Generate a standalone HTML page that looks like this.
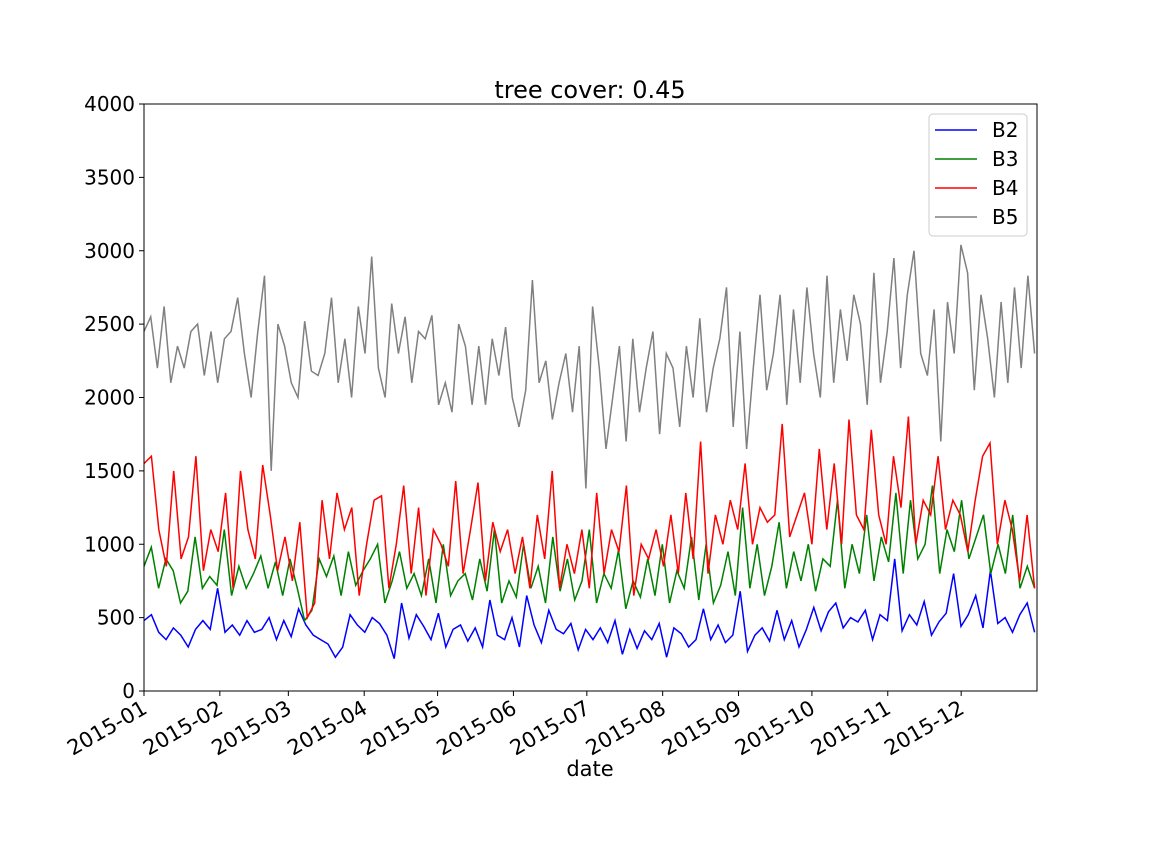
<!DOCTYPE html>
<html><head><meta charset="utf-8"><style>
body{margin:0;background:#fff;}
svg{display:block;font-family:"DejaVu Sans","Liberation Sans",sans-serif;}
</style></head><body>
<svg id="chart" width="1152" height="864">
<text x="590" y="98" text-anchor="middle" font-size="24">tree cover: 0.45</text>
<g id="series"></g>
<rect x="144" y="104" width="893" height="587" fill="none" stroke="#000" stroke-width="1"/>
<g id="axes"></g>
<text x="590" y="776" text-anchor="middle" font-size="21">date</text>
<g>
<rect x="929" y="114" width="98" height="122" rx="4" fill="#fff" fill-opacity="0.8" stroke="#ccc"/>
<g id="legend"></g>
</g>
</svg>
<script>
const monthLabels=["2015-01","2015-02","2015-03","2015-04","2015-05","2015-06","2015-07","2015-08","2015-09","2015-10","2015-11","2015-12"];
const monthStartDays=[0,31,59,90,120,151,181,212,243,273,304,334];
const yTicks=[0,500,1000,1500,2000,2500,3000,3500,4000];
const seriesNames=["B2","B3","B4","B5"];
const seriesColors=["#0000ff","#008000","#ff0000","#808080"];
const b2=[480,520,400,350,430,380,300,420,480,420,700,400,450,380,480,400,420,500,350,480,370,560,450,380,350,320,230,300,520,450,400,500,460,380,220,600,360,520,440,350,530,300,420,450,340,430,300,620,380,350,500,300,650,450,330,550,420,390,460,280,420,350,430,330,480,250,420,290,410,350,460,230,430,390,300,350,560,350,450,330,380,680,270,380,430,340,550,350,480,300,420,570,410,540,600,430,500,470,550,350,520,480,900,410,520,450,610,380,470,530,800,440,520,650,430,820,460,500,400,520,600,400];
const b3=[850,980,700,900,820,600,680,1050,700,780,720,1100,650,850,700,800,920,700,880,650,900,700,480,550,900,780,920,650,950,720,820,900,1000,600,750,950,700,800,650,900,600,1000,650,750,800,620,900,680,1100,600,750,640,1000,700,850,600,1050,680,900,620,750,1100,600,800,700,960,560,750,640,900,650,1000,600,820,700,1050,620,1000,600,720,950,650,1250,700,1000,650,850,1150,700,950,750,1000,680,900,850,1300,700,1000,800,1200,750,1050,880,1350,800,1300,900,1000,1400,800,1100,950,1300,900,1050,1200,800,1000,800,1200,700,850,700];
const b4=[1550,1600,1100,850,1500,900,1050,1600,820,1100,950,1350,700,1500,1100,900,1540,1200,820,1050,750,1150,500,600,1300,900,1350,1100,1250,650,1000,1300,1330,700,1000,1400,800,1250,650,1100,1000,850,1430,800,1100,1420,750,1150,950,1100,800,1050,700,1200,900,1500,700,1000,800,1100,700,1350,800,1100,950,1400,650,1000,900,1100,850,1200,800,1350,900,1700,800,1200,1000,1300,1100,1550,1000,1250,1150,1200,1820,1050,1200,1350,1000,1650,1100,1550,1000,1850,1200,1100,1780,1200,1000,1600,1250,1870,1000,1300,1200,1600,1100,1300,1200,950,1300,1600,1690,1000,1300,1100,750,1200,700];
const b5=[2450,2550,2200,2620,2100,2350,2200,2450,2500,2150,2450,2100,2400,2450,2680,2300,2000,2450,2830,1500,2500,2350,2100,2000,2520,2180,2150,2300,2680,2100,2400,2000,2620,2300,2960,2200,2000,2640,2300,2550,2100,2450,2400,2560,1950,2100,1900,2500,2350,1950,2350,1950,2400,2150,2480,2000,1800,2050,2800,2100,2250,1850,2100,2300,1900,2350,1380,2620,2200,1650,2000,2350,1700,2400,1900,2200,2450,1750,2300,2200,1800,2350,2000,2540,1900,2200,2400,2750,1800,2450,1650,2200,2700,2050,2300,2700,1950,2600,2100,2750,2300,2000,2830,2100,2600,2250,2700,2500,1950,2850,2100,2450,2950,2200,2700,3000,2300,2150,2600,1700,2650,2300,3040,2850,2050,2700,2400,2000,2650,2100,2750,2200,2830,2300];
const allSeries=[b2,b3,b4,b5];

const NS="http://www.w3.org/2000/svg";
const X0=144,X1=1037,Y0=691,Y1=104,DMAX=365,VMAX=4000;
const xs=d=>X0+(X1-X0)*d/DMAX;
const ys=v=>Y0-(Y0-Y1)*v/VMAX;
function mk(tag,attrs,parent){const e=document.createElementNS(NS,tag);for(const k in attrs)e.setAttribute(k,attrs[k]);parent.appendChild(e);return e;}
const axes=document.getElementById('axes');
yTicks.forEach(v=>{
  const l=mk('line',{x1:X0-5,x2:X0,y1:ys(v),y2:ys(v),stroke:'#000'},axes);
  
  
  const t=mk('text',{x:X0-9,y:ys(v)+7,'text-anchor':'end','font-size':20},axes);
  
  
  t.textContent=v;
});
monthStartDays.forEach((d,i)=>{
  const x=xs(d);
  const l=mk('line',{x1:x,x2:x,y1:Y0,y2:Y0+5,stroke:'#000'},axes);
  
  
  const ax=x-3, ay=Y0+8;
  const t=mk('text',{x:ax,y:ay,'text-anchor':'end','font-size':21,transform:`rotate(-30 ${ax} ${ay})`,'dominant-baseline':'hanging'},axes);
  
  
  t.textContent=monthLabels[i];
});
const sg=document.getElementById('series');
allSeries.forEach((s,k)=>{
  const n=s.length;
  const pts=s.map((v,i)=>xs(i*(DMAX-1)/(n-1)).toFixed(1)+','+ys(v).toFixed(1)).join(' ');
  const p=mk('polyline',{points:pts,fill:'none',stroke:seriesColors[k],'stroke-width':1.5},sg);
  
  
});
const lg=document.getElementById('legend');
seriesNames.forEach((nm,k)=>{
  const y=130+k*29;
  const l=mk('line',{x1:935,x2:977,y1:y,y2:y,stroke:seriesColors[k],'stroke-width':1.5},lg);
  
  
  const t=mk('text',{x:992,y:y+7,'font-size':20},lg);
  
  
  t.textContent=nm;
});
</script>
</body></html>
